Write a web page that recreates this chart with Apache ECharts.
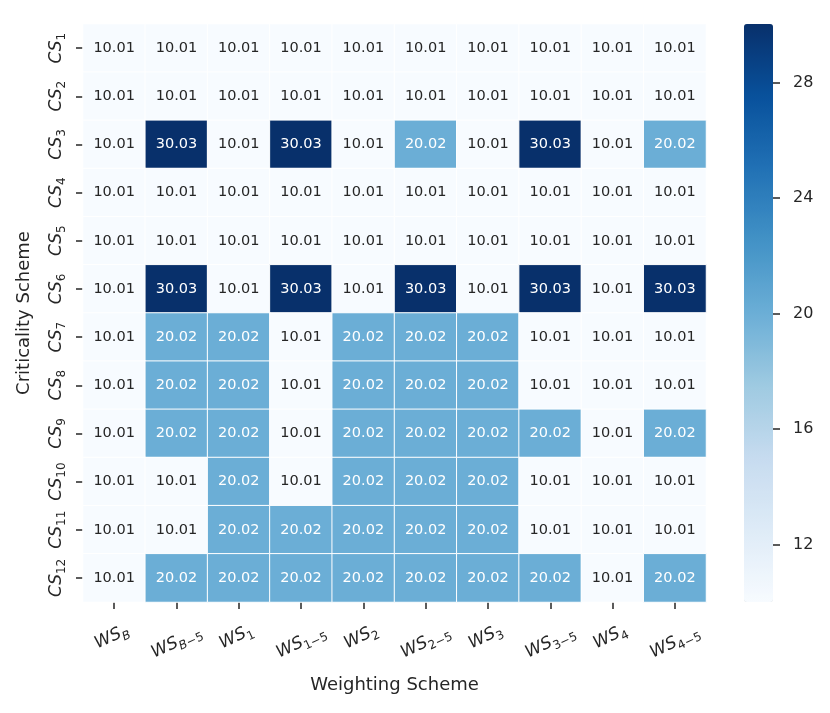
<!DOCTYPE html>
<html>
<head>
<meta charset="utf-8">
<script src="https://cdn.jsdelivr.net/npm/echarts@6/dist/echarts.min.js"></script>
<style>
  html, body { margin: 0; padding: 0; background: #fff; }
  #chart { width: 830px; height: 713px; }
</style>
</head>
<body>
<div id="chart"></div>
<script>
// Column / row categories (subscript part after "_")
const weightingSchemes = ['WS_B', 'WS_B-5', 'WS_1', 'WS_1-5', 'WS_2', 'WS_2-5', 'WS_3', 'WS_3-5', 'WS_4', 'WS_4-5'];
const criticalitySchemes = ['CS_1', 'CS_2', 'CS_3', 'CS_4', 'CS_5', 'CS_6', 'CS_7', 'CS_8', 'CS_9', 'CS_10', 'CS_11', 'CS_12'];

// Heatmap values, one array per criticality scheme
const cs1 = [10.01, 10.01, 10.01, 10.01, 10.01, 10.01, 10.01, 10.01, 10.01, 10.01];
const cs2 = [10.01, 10.01, 10.01, 10.01, 10.01, 10.01, 10.01, 10.01, 10.01, 10.01];
const cs3 = [10.01, 30.03, 10.01, 30.03, 10.01, 20.02, 10.01, 30.03, 10.01, 20.02];
const cs4 = [10.01, 10.01, 10.01, 10.01, 10.01, 10.01, 10.01, 10.01, 10.01, 10.01];
const cs5 = [10.01, 10.01, 10.01, 10.01, 10.01, 10.01, 10.01, 10.01, 10.01, 10.01];
const cs6 = [10.01, 30.03, 10.01, 30.03, 10.01, 30.03, 10.01, 30.03, 10.01, 30.03];
const cs7 = [10.01, 20.02, 20.02, 10.01, 20.02, 20.02, 20.02, 10.01, 10.01, 10.01];
const cs8 = [10.01, 20.02, 20.02, 10.01, 20.02, 20.02, 20.02, 10.01, 10.01, 10.01];
const cs9 = [10.01, 20.02, 20.02, 10.01, 20.02, 20.02, 20.02, 20.02, 10.01, 20.02];
const cs10 = [10.01, 10.01, 20.02, 10.01, 20.02, 20.02, 20.02, 10.01, 10.01, 10.01];
const cs11 = [10.01, 10.01, 20.02, 20.02, 20.02, 20.02, 20.02, 10.01, 10.01, 10.01];
const cs12 = [10.01, 20.02, 20.02, 20.02, 20.02, 20.02, 20.02, 20.02, 10.01, 20.02];
const rows = [cs1, cs2, cs3, cs4, cs5, cs6, cs7, cs8, cs9, cs10, cs11, cs12];

// Colorbar range and ticks
const colorMin = 10.01;
const colorMax = 30.03;
const colorbarTicks = [12, 16, 20, 24, 28];

// matplotlib "Blues"
const blues = ['#f7fbff', '#deebf7', '#c6dbef', '#9ecae1', '#6baed6', '#4292c6', '#2171b5', '#08519c', '#08306b'];

const FONT = 'DejaVu Sans';
const TEXT = '#262626';

// Build heatmap data
const heatData = [];
rows.forEach((row, y) => {
    row.forEach((v, x) => {
        heatData.push({
            value: [x, y, v],
            label: { color: v >= 18 ? '#ffffff' : TEXT }
        });
    });
});

// "WS_B-5" -> rich text with italic letters and a lowered subscript
function mathLabel(name) {
    const parts = name.split('_');
    const sub = parts[1].replace('-', '\u2212');
    let s = '{m|' + parts[0] + '}';
    for (const ch of sub) {
        if (/[A-Za-z]/.test(ch)) s += '{si|' + ch + '}';
        else s += '{s|' + ch + '}';
    }
    return s;
}

// x labels: longer ones sit a little lower (matplotlib aligns the bbox top)
function xLabel(name) {
    const long = name.split('_')[1].length > 2;
    return (long ? '{gap| }\n' : '') + mathLabel(name);
}

const richMath = {
    m: { fontFamily: FONT, fontStyle: 'italic', fontSize: 17, color: TEXT, lineHeight: 18, verticalAlign: 'top' },
    s: { fontFamily: FONT, fontSize: 12, color: TEXT, lineHeight: 28, verticalAlign: 'middle' },
    si: { fontFamily: FONT, fontStyle: 'italic', fontSize: 12, color: TEXT, lineHeight: 28, verticalAlign: 'middle' },
    gap: { fontSize: 2, lineHeight: 12 }
};

const chart = echarts.init(document.getElementById('chart'));

const option = {
    backgroundColor: '#ffffff',
    animation: false,
    textStyle: { fontFamily: FONT },
    grid: [
        { left: 83, top: 24, width: 623, height: 578 },
        { left: 744, top: 24, width: 29, height: 578 }
    ],
    xAxis: [
        {
            type: 'category',
            gridIndex: 0,
            data: weightingSchemes,
            name: 'Weighting Scheme',
            nameLocation: 'middle',
            nameGap: 74,
            nameTextStyle: { fontFamily: FONT, fontSize: 18, color: TEXT },
            axisLine: { show: false },
            axisTick: { show: true, alignWithLabel: true, length: 7, lineStyle: { color: TEXT, width: 1.5 } },
            axisLabel: {
                rotate: 25,
                align: 'center',
                verticalAlign: 'middle',
                margin: 40,
                interval: 0,
                formatter: xLabel,
                rich: richMath
            },
            splitLine: { show: false }
        },
        { type: 'category', gridIndex: 1, data: [''], show: false }
    ],
    yAxis: [
        {
            type: 'category',
            gridIndex: 0,
            data: criticalitySchemes,
            inverse: true,
            name: 'Criticality Scheme',
            nameLocation: 'middle',
            nameGap: 50,
            nameTextStyle: { fontFamily: FONT, fontSize: 18, color: TEXT },
            axisLine: { show: false },
            axisTick: { show: true, alignWithLabel: true, length: 7, lineStyle: { color: TEXT, width: 1.5 } },
            axisLabel: {
                rotate: 90,
                margin: 7,
                interval: 0,
                formatter: mathLabel,
                rich: richMath
            },
            splitLine: { show: false }
        },
        {
            type: 'value',
            gridIndex: 1,
            position: 'right',
            min: colorMin,
            max: colorMax,
            axisLine: { show: false },
            splitLine: { show: false },
            axisTick: { show: true, length: 7, customValues: colorbarTicks, lineStyle: { color: TEXT, width: 1.5 } },
            axisLabel: { show: true, margin: 20, customValues: colorbarTicks, fontFamily: FONT, fontSize: 16, color: TEXT }
        }
    ],
    visualMap: {
        type: 'continuous',
        seriesIndex: 0,
        min: colorMin,
        max: colorMax,
        calculable: false,
        show: true,
        left: 744,
        top: 24,
        padding: 0,
        itemWidth: 29,
        itemHeight: 578,
        text: null,
        showLabel: false,
        inRange: { color: blues }
    },
    series: [
        {
            type: 'heatmap',
            xAxisIndex: 0,
            yAxisIndex: 0,
            data: heatData,
            itemStyle: { borderColor: '#ffffff', borderWidth: 1 },
            label: {
                show: true,
                fontFamily: FONT,
                fontSize: 14.5,
                formatter: p => p.value[2].toFixed(2)
            },
            emphasis: { disabled: true }
        },
        {
            type: 'line',
            xAxisIndex: 1,
            yAxisIndex: 1,
            data: [],
            silent: true
        }
    ]
};

chart.setOption(option);
</script>
</body>
</html>
